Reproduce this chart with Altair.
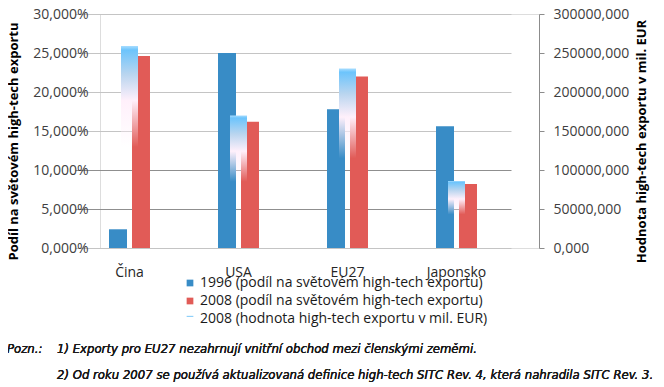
import altair as alt
import pandas as pd

categories = ["Čina", "USA", "EU27", "Japonsko"]
share_1996 = [2.4, 25.0, 17.8, 15.6]
share_2008 = [24.6, 16.2, 22.0, 8.2]
value_2008 = [259000, 170000, 230000, 86000]
series = [
    "1996 (podíl na světovém high-tech exportu)",
    "2008 (podíl na světovém high-tech exportu)",
    "2008 (hodnota high-tech exportu v mil. EUR)",
]
left_ticks = [0, 5, 10, 15, 20, 25, 30]
right_ticks = [0, 50000, 100000, 150000, 200000, 250000, 300000]
note_label = "Pozn.:"
notes = [
    "1) Exporty pro EU27 nezahrnují vnitřní obchod mezi členskými zeměmi.",
    "2) Od roku 2007 se používá aktualizovaná definice high-tech SITC Rev. 4, která nahradila SITC Rev. 3.",
]

BLUE = "#388cc6"
RED = "#e15b57"
LIGHT = "#8fd0fa"
FONT = "Open Sans"
NOTE_FONT = "DejaVu Sans Condensed, DejaVu Sans, sans-serif"

share_df = pd.DataFrame(
    {
        "category": categories * 2,
        "series": [series[0]] * 4 + [series[1]] * 4,
        "share": share_1996 + share_2008,
    }
)
value_df = pd.DataFrame({"category": categories, "value": value_2008})
legend_df = pd.DataFrame({"series": series})

x_scale = alt.Scale(domain=categories, range=[-25, 411], paddingInner=0.624, paddingOuter=0.312)
x_axis = alt.Axis(
    title=None, domain=False, ticks=False, grid=False, labelAngle=0,
    labelFontSize=14, labelFont=FONT, labelColor="#262626", labelPadding=17,
)

bars = alt.Chart(share_df).mark_bar().encode(
    x=alt.X("category:N", scale=x_scale, axis=x_axis, sort=categories),
    xOffset=alt.XOffset("series:N", scale=alt.Scale(domain=series[:2], paddingInner=0.217, paddingOuter=0)),
    y=alt.Y(
        "share:Q",
        scale=alt.Scale(domain=[0, 30], nice=False),
        axis=alt.Axis(
            orient="left", values=left_ticks, grid=True,
            gridColor={"condition": {"test": "datum.value > 1 && datum.value < 11", "value": "#8f8f8f"}, "value": "#c4c4c4"},
            domain=False, ticks=False, labelPadding=12,
            labelExpr="replace(format(datum.value, '.3f'), '.', ',') + '%'",
            labelFontSize=14, labelFont=FONT, labelColor="#404040",
            title="Podíl na světovém high-tech exportu", titleFont=FONT, titleFontSize=13,
            titleFontWeight="bold", titleColor="#000000", titleAngle=270,
            titleX=-87, titleY=127, titleBaseline="middle",
        ),
    ),
    color=alt.Color("series:N", scale=alt.Scale(domain=series[:2], range=[BLUE, RED]), legend=None),
)

grad = alt.Gradient(
    gradient="linear", x1=0, y1=0, x2=0, y2=1,
    stops=[
        alt.GradientStop(offset=0, color="#a8ddff"),
        alt.GradientStop(offset=0.02, color="#6cc4fc"),
        alt.GradientStop(offset=0.14, color="#b9d5ef"),
        alt.GradientStop(offset=0.27, color="#fff0fb"),
        alt.GradientStop(offset=0.5, color="rgba(255,240,251,0)"),
        alt.GradientStop(offset=1, color="rgba(255,255,255,0)"),
    ],
)

value_bars = alt.Chart(value_df).mark_bar(color=grad, width=17).encode(
    x=alt.X("category:N", scale=x_scale, axis=x_axis, sort=categories),
    y=alt.Y(
        "value:Q",
        scale=alt.Scale(domain=[0, 300000], nice=False),
        axis=alt.Axis(
            orient="right", values=right_ticks, grid=False,
            domain=True, domainColor="#8c8c8c", ticks=True, tickColor="#8c8c8c", tickSize=5,
            labelPadding=9,
            labelExpr="replace(format(datum.value, '.3f'), '.', ',')",
            labelFontSize=14, labelFont=FONT, labelColor="#404040",
            title="Hodnota high-tech exportu v mil. EUR", titleFont=FONT, titleFontSize=13,
            titleFontWeight="bold", titleColor="#000000", titleAngle=270,
            titleX=102, titleY=127, titleBaseline="middle",
        ),
    ),
)

# invisible carrier marks (placed off-canvas) that only produce the legend
legend_layer = alt.Chart(legend_df).mark_point(filled=True, opacity=1).encode(
    x=alt.value(-5000),
    y=alt.value(-5000),
    color=alt.Color(
        "series:N",
        scale=alt.Scale(domain=series, range=[BLUE, RED, LIGHT]),
        legend=alt.Legend(
            title=None, orient="none", legendX=83, legendY=262, padding=0,
            labelFontSize=14, labelFont=FONT, labelColor="#1a1a1a", labelOffset=3,
            labelLimit=500,
            symbolSize=45, symbolOpacity=1, symbolStrokeWidth=0, rowPadding=4,
        ),
    ),
    shape=alt.Shape(
        "series:N",
        scale=alt.Scale(domain=series, range=["square", "square", "M-1,-0.95H1V-0.6H-1Z"]),
    ),
)

note_style = dict(align="left", baseline="middle", fontStyle="italic", font=NOTE_FONT,
                  fontSize=13, fontWeight="normal", color="#1a1a1a")
n0 = alt.Chart(legend_df).mark_text(**note_style).encode(
    x=alt.value(-93), y=alt.value(335), text=alt.value(note_label)
)
n1 = alt.Chart(legend_df).mark_text(**note_style).encode(
    x=alt.value(-43), y=alt.value(335), text=alt.value(notes[0])
)
n2 = alt.Chart(legend_df).mark_text(**note_style).encode(
    x=alt.value(-43), y=alt.value(361), text=alt.value(notes[1])
)

chart = (
    alt.layer(bars, value_bars, legend_layer, n0, n1, n2)
    .resolve_scale(y="independent", color="independent", shape="independent")
    .properties(
        width=439, height=234,
        autosize=alt.AutoSizeParams(type="none"),
        padding={"left": 92, "top": 6, "right": 117, "bottom": 139},
    )
    .configure_view(stroke=None)
    .configure(background="white")
)

chart.save("out.html", embed_options={"renderer": "svg", "actions": False})
